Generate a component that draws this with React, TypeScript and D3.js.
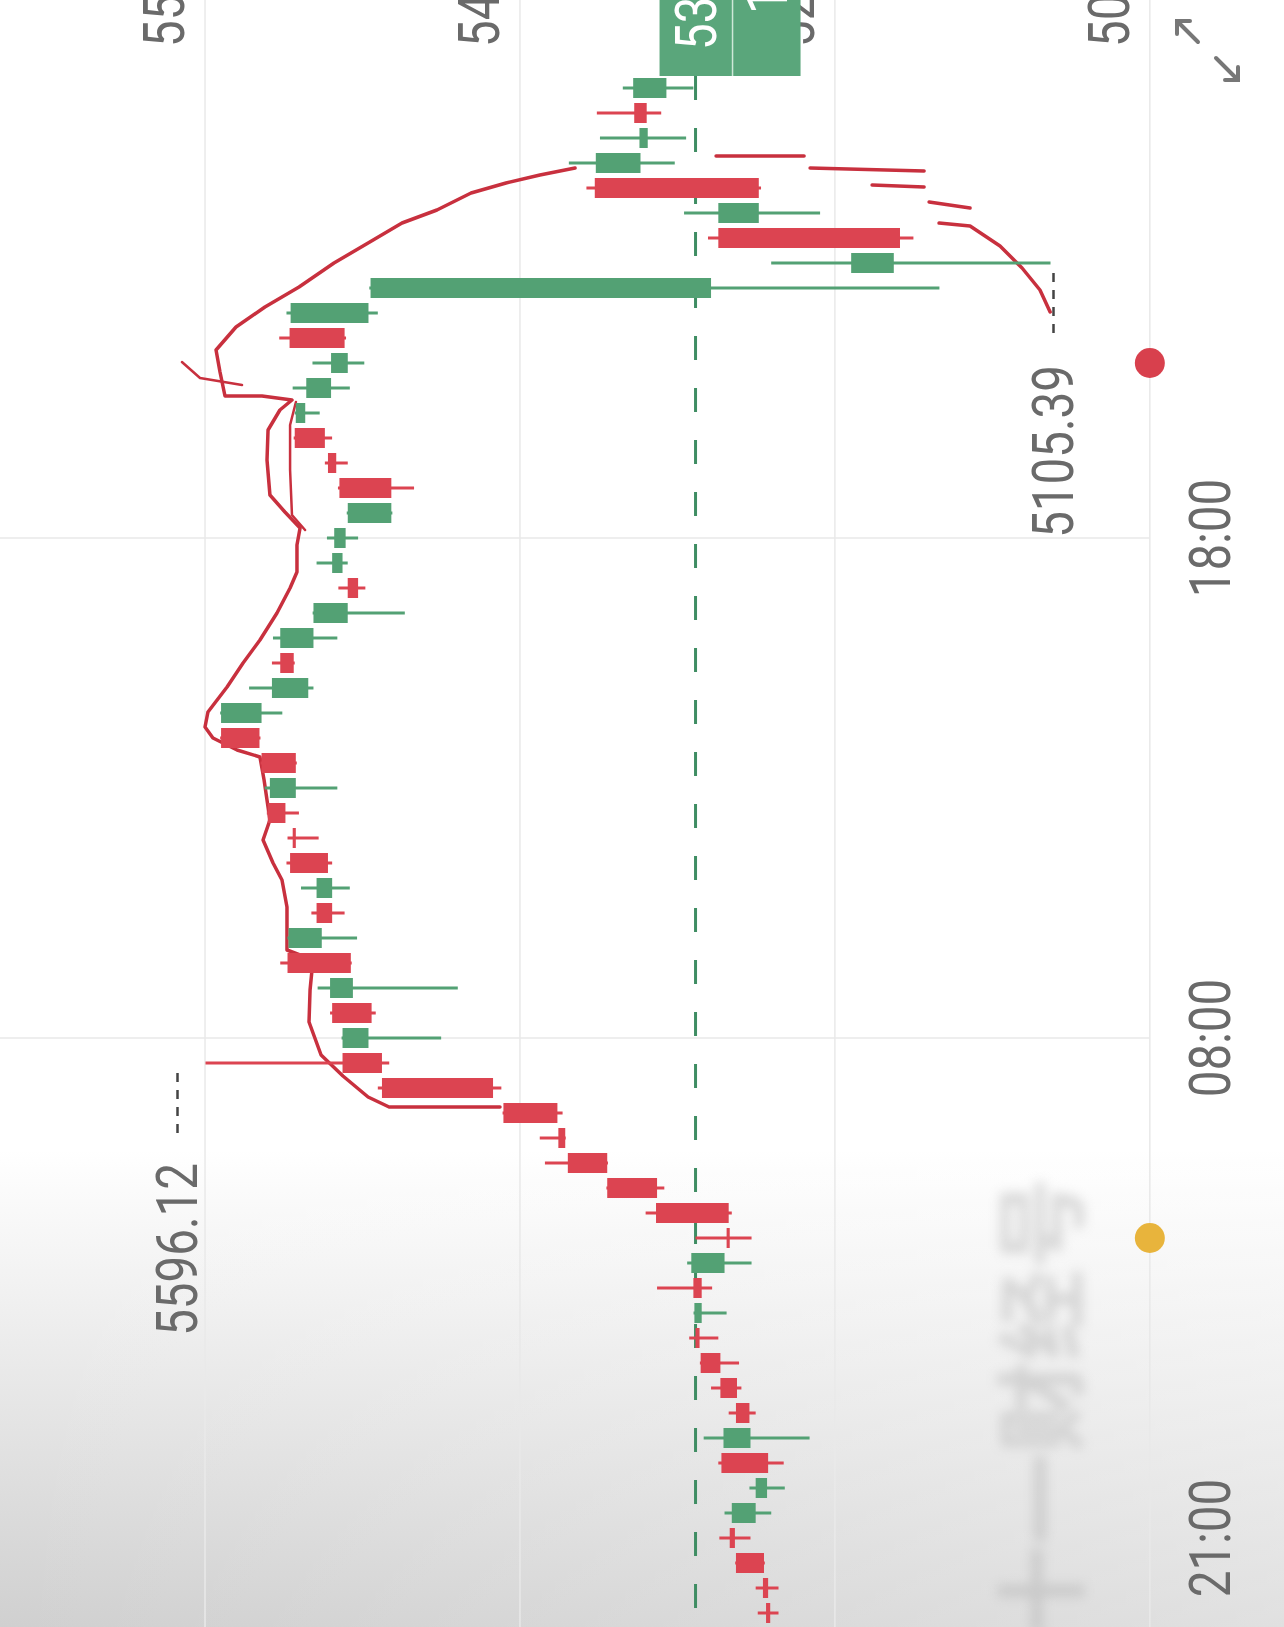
import React from 'react';
import * as d3 from 'd3';

const W = 1284;
const H = 1627;

// 30 min candles, oldest first
const opens = [5270.58, 5272.39, 5288.06, 5291.68, 5276.61, 5270.0, 5296.5, 5279.62, 5288.06, 5297.1, 5308.56, 5311.57, 5307.96, 5312.78, 5294.69, 5293.49, 5334.48, 5362.82, 5385.7, 5391.2, 5423.1, 5493.64, 5516.54, 5501.47, 5522.57, 5510.52, 5548.49, 5528.6, 5531.62, 5522.57, 5547.0, 5545.48, 5559.95, 5543.67, 5563.57, 5587.08, 5563.57, 5536.44, 5552.71, 5533.42, 5513.53, 5513.53, 5516.54, 5514.74, 5488.2, 5518.35, 5525.0, 5544.3, 5538.2, 5523.2, 5513.5, 5547.3, 5501.47, 5302.53, 5196.4, 5298.3, 5274.8, 5370.05, 5343.5, 5339.3, 5347.14, 5328.45];
const highs = [5275.4, 5276.61, 5288.5, 5297.71, 5294.69, 5280.23, 5298.31, 5306.8, 5292.28, 5302.53, 5309.0, 5315.2, 5312.7, 5333.88, 5316.4, 5311.57, 5340.52, 5363.3, 5399.0, 5402.0, 5423.6, 5496.05, 5596.12, 5517.1, 5523.78, 5531.0, 5552.71, 5548.5, 5534.63, 5540.66, 5549.1, 5548.49, 5560.5, 5561.76, 5564.1, 5587.6, 5587.6, 5570.8, 5557.54, 5556.93, 5533.9, 5518.96, 5531.62, 5525.59, 5514.1, 5519.2, 5526.8, 5544.9, 5544.3, 5545.5, 5534.0, 5553.3, 5549.1, 5501.0, 5267.6, 5304.3, 5318.2, 5374.9, 5385.1, 5367.04, 5368.85, 5353.77];
const lows = [5263.35, 5263.35, 5271.3, 5279.62, 5267.57, 5259.7, 5260.33, 5245.3, 5276.61, 5284.9, 5286.26, 5298.3, 5293.49, 5301.9, 5279.0, 5279.0, 5290.48, 5329.66, 5362.4, 5386.93, 5388.74, 5424.31, 5489.42, 5459.27, 5497.25, 5449.6, 5511.2, 5508.1, 5515.34, 5512.32, 5522.57, 5530.41, 5541.86, 5519.56, 5543.1, 5564.2, 5551.51, 5533.42, 5544.3, 5519.56, 5480.37, 5503.28, 5513.53, 5507.5, 5487.6, 5475.0, 5513.5, 5522.6, 5529.8, 5512.3, 5503.9, 5514.5, 5496.05, 5169.9, 5105.39, 5185.0, 5239.2, 5273.5, 5323.6, 5317.0, 5331.47, 5312.78];
const closes = [5268.17, 5269.38, 5271.78, 5288.67, 5290.48, 5276.61, 5269.38, 5295.3, 5280.23, 5287.46, 5297.1, 5309.2, 5312.2, 5307.96, 5313.99, 5291.68, 5292.28, 5333.88, 5362.82, 5387.2, 5391.75, 5429.13, 5493.64, 5516.54, 5499.66, 5523.78, 5511.72, 5547.9, 5522.57, 5531.62, 5525.0, 5543.67, 5549.7, 5558.74, 5543.67, 5564.77, 5587.08, 5557.54, 5544.88, 5552.71, 5533.42, 5507.5, 5522.57, 5521.37, 5513.5, 5488.2, 5520.2, 5526.8, 5543.7, 5537.6, 5523.2, 5515.34, 5546.69, 5500.27, 5221.15, 5192.8, 5298.3, 5274.8, 5369.45, 5344.1, 5339.9, 5347.75];

const timeTickIdx = [3, 23, 43];
const timeTickLabels = ['21:00', '08:00', '18:00'];
const priceTicks = [5596.4, 5413.5, 5230.6, 5047.7];
const priceTickLabels = ['5596.40', '5413.50', '5230.60', '5047.70'];

const maxPrice = 5596.12;
const minPrice = 5105.39;
const lastPrice = 5311.53;
const countdown = '14:27';

const eventIdx = [50, 15];
const eventColors = ['#d8404d', '#e8b43c'];

// red indicator line: [candle index, price]
const faceLine: [number, number][] = [
  [20.24, 5425.1], [20.24, 5489.5], [20.64, 5501.7], [21.48, 5516.3], [22.32, 5529.0],
  [23.64, 5536.0], [24.92, 5535.4], [26.12, 5533.7], [26.52, 5548.8], [28.24, 5548.8],
  [29.32, 5551.7], [30.0, 5556.9], [30.92, 5562.7], [31.72, 5558.7], [33.32, 5562.1],
  [34.24, 5564.5], [34.52, 5577.8], [35.0, 5591.8], [35.44, 5596.4], [36.04, 5594.7],
  [37.04, 5583.6], [38.0, 5574.3], [38.92, 5564.5], [40.0, 5554.6], [41.0, 5547.0],
  [41.64, 5543.0], [42.72, 5543.0], [43.4, 5541.2], [44.04, 5550.0], [44.72, 5558.7],
  [46.12, 5560.4], [47.32, 5559.8], [48.12, 5552.9], [48.52, 5545.9], [48.68, 5563.3],
  [48.68, 5584.8], [49.64, 5587.7], [50.52, 5590.0], [51.44, 5578.4],
  [52.24, 5561.6], [53.04, 5541.8], [54.0, 5521.5], [54.8, 5501.7], [55.6, 5482.0],
  [56.12, 5461.7], [56.8, 5441.9], [57.2, 5421.6], [57.52, 5401.9], [57.8, 5381.5],
];
const eyeLine: [number, number][] = [[43.32, 5538.3], [43.92, 5545.9], [45.72, 5547.0], [47.52, 5547.0], [48.44, 5543.6]];
const noseLine: [number, number][] = [[50.04, 5609.8], [49.4, 5599.3], [49.12, 5574.9]];
const backLines: [number, number][][] = [
  [[58.28, 5299.6], [58.28, 5248.5]],
  [[57.8, 5245.0], [57.68, 5178.8]],
  [[57.12, 5209.0], [57.04, 5178.8]],
  [[56.44, 5175.9], [56.2, 5152.1]],
  [[55.6, 5170.1], [55.48, 5152.1], [54.68, 5134.7], [53.8, 5121.9], [52.92, 5111.5], [52.04, 5105.6]],
];

const GREEN = '#53a174';
const RED = '#dc4451';
const LINE_RED = '#c8303e';
const TEXT = '#6a6a6a';
const FONT = 'Roboto, "DejaVu Sans", sans-serif';

// rotated label, reads bottom -> top
const Label = ({ x, y, text, anchor = 'middle', fill = TEXT, size = 58 }: any) => (
  <text
    transform={`translate(${x},${y}) rotate(-90) scale(0.82,1)`}
    textAnchor={anchor}
    dy="0.36em"
    fontSize={size}
    fontFamily={FONT}
    fill={fill}
  >
    {text}
  </text>
);

export default function App() {
  const n = opens.length;
  const x = d3.scaleLinear().domain([maxPrice, minPrice]).range([205.5, 1050.5]);
  const y = d3.scaleLinear().domain([0, n - 1]).range([1613, 88]);

  const line = d3.line<[number, number]>()
    .x(d => x(d[1]))
    .y(d => y(d[0]))
    .curve(d3.curveLinear);

  const iMax = d3.maxIndex(highs);
  const iMin = d3.minIndex(lows);
  const bodyH = 20;
  const lastX = x(lastPrice);
  const axisX = x(priceTicks[3]);

  return (
    <svg width={W} height={H} style={{ position: 'absolute', left: 0, top: 0, background: '#fff' }}>
      <defs>
        <linearGradient id="fade" x1="0" y1="0" x2="0" y2="1">
          <stop offset="0" stopColor="#c4c4c4" stopOpacity="0" />
          <stop offset="1" stopColor="#c4c4c4" stopOpacity="0.8" />
        </linearGradient>
        <linearGradient id="fadeX" x1="0" y1="0" x2="1" y2="0">
          <stop offset="0" stopColor="#fff" stopOpacity="0" />
          <stop offset="1" stopColor="#fff" stopOpacity="0.35" />
        </linearGradient>
        <filter id="blur"><feGaussianBlur stdDeviation="6" /></filter>
      </defs>
      <rect width={W} height={H} fill="#fff" />

      {/* bottom fade, behind the marks */}
      <rect x={0} y={1150} width={W} height={H - 1150} fill="url(#fade)" />
      <rect x={0} y={1150} width={W} height={H - 1150} fill="url(#fadeX)" />

      {/* grid */}
      {priceTicks.map((p, k) => (
        <line key={'gx' + k} x1={x(p)} x2={x(p)} y1={0} y2={H} stroke="#e9e9e9" strokeWidth={1.5} />
      ))}
      {timeTickIdx.slice(1).map((i, k) => (
        <line key={'gy' + k} x1={0} x2={axisX} y1={y(i)} y2={y(i)} stroke="#e9e9e9" strokeWidth={1.5} />
      ))}

      {/* price tick labels, cut at the top edge */}
      {priceTicks.map((p, k) => (
        <Label key={'pl' + k} x={x(p) - 42} y={47} text={priceTickLabels[k]} anchor="start" />
      ))}

      {/* time labels */}
      {timeTickIdx.map((i, k) => (
        <Label key={'tl' + k} x={1209} y={y(i)} text={timeTickLabels[k]} />
      ))}

      {/* watermark */}
      <g filter="url(#blur)" opacity={0.45}>
        <text
          transform={`translate(1043,1407) rotate(-90)`}
          textAnchor="middle"
          dy="0.36em"
          fontSize={92}
          fontFamily='"Noto Sans CJK SC", sans-serif'
          fontWeight={700}
          fill="#b0b0b0"
        >
          十一财经号
        </text>
      </g>

      {/* last price dashed line */}
      <line x1={lastX} x2={lastX} y1={76} y2={H} stroke="#3f8d63" strokeWidth={3} strokeDasharray="24 28" />

      {/* red indicator line */}
      <g fill="none" stroke={LINE_RED} strokeWidth={3.5} strokeLinejoin="round" strokeLinecap="round">
        <path d={line(faceLine) || ''} />
        <path d={line(eyeLine) || ''} strokeWidth={2.5} />
        <path d={line(noseLine) || ''} strokeWidth={2.5} />
        {backLines.map((seg, k) => <path key={'bl' + k} d={line(seg) || ''} />)}
      </g>

      {/* candles */}
      {opens.map((o, i) => {
        const c = closes[i];
        const col = c >= o ? GREEN : RED;
        const x0 = x(Math.max(o, c));
        const x1 = x(Math.min(o, c));
        return (
          <g key={'c' + i}>
            <line x1={x(highs[i])} x2={x(lows[i])} y1={y(i)} y2={y(i)} stroke={col} strokeWidth={3} />
            <rect x={x0} y={y(i) - bodyH / 2} width={Math.max(3, x1 - x0)} height={bodyH} fill={col} />
          </g>
        );
      })}

      {/* max / min markers */}
      <line x1={x(maxPrice) - 28} x2={x(maxPrice) - 28} y1={y(iMax) + 10} y2={y(iMax) + 78}
        stroke="#444" strokeWidth={2.5} strokeDasharray="9 8" />
      <Label x={x(maxPrice) - 29} y={y(iMax) + 100} text={maxPrice.toFixed(2)} anchor="end" />
      <line x1={x(minPrice) + 3} x2={x(minPrice) + 3} y1={y(iMin) + 10} y2={y(iMin) + 78}
        stroke="#444" strokeWidth={2.5} strokeDasharray="9 8" />
      <Label x={x(minPrice) + 2} y={y(iMin) + 102} text={minPrice.toFixed(2)} anchor="end" />

      {/* event dots on time axis */}
      {eventIdx.map((i, k) => (
        <circle key={'ev' + k} cx={axisX} cy={y(i)} r={15} fill={eventColors[k]} />
      ))}

      {/* last price tag */}
      <rect x={lastX - 36} y={0} width={141} height={76} fill="#5aa67b" />
      <line x1={lastX + 37} x2={lastX + 37} y1={0} y2={76} stroke="#cfe8d8" strokeWidth={1.5} />
      <Label x={lastX} y={50} text={lastPrice.toFixed(2)} anchor="start" fill="#fff" />
      <Label x={lastX + 71} y={14} text={countdown} anchor="start" fill="#fff" />

      {/* expand icon */}
      <g stroke="#777" strokeWidth={4} fill="none" strokeLinecap="round">
        <line x1={1198} y1={42} x2={1177} y2={21} />
        <polyline points="1177,34 1177,21 1190,21" />
        <line x1={1216} y1={58} x2={1238} y2={80} />
        <polyline points="1238,67 1238,80 1225,80" />
      </g>
    </svg>
  );
}
